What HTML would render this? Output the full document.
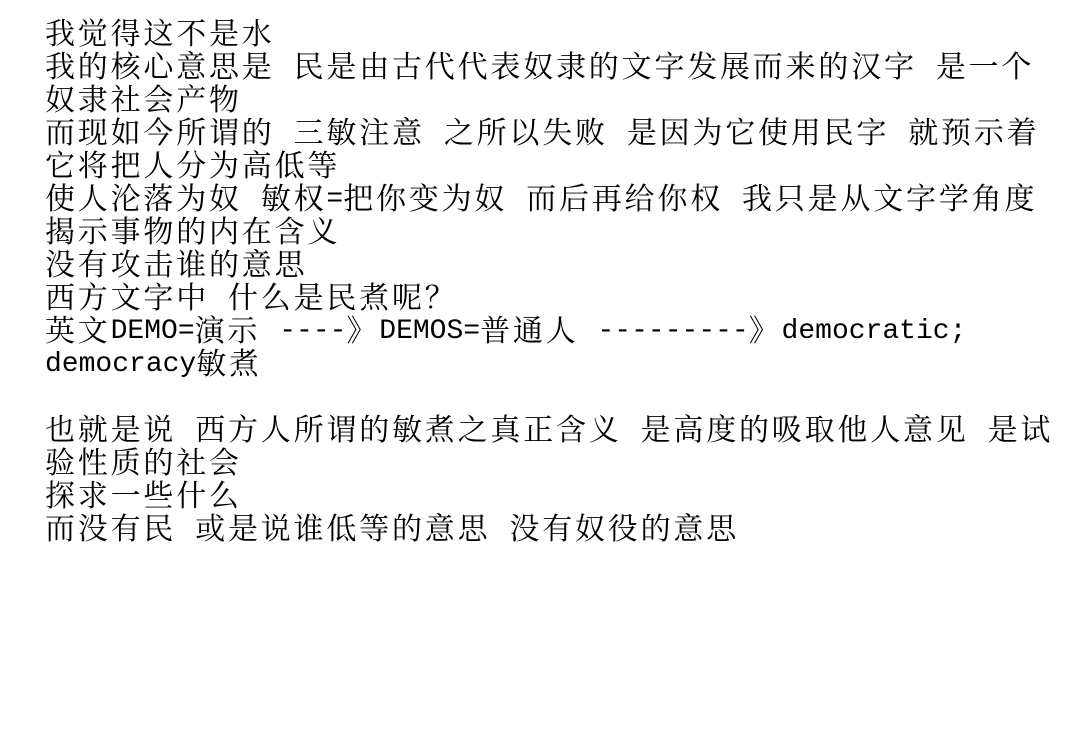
<!DOCTYPE html>
<html><head><meta charset="utf-8"><style>
body{margin:0;width:1082px;height:740px;background:#fff;overflow:hidden}
#t{position:absolute;left:45px;top:15px;font-family:"Noto Serif CJK SC","WenQuanYi Zen Hei",serif;font-size:30px;letter-spacing:2.8px;color:#000;white-space:nowrap}
#t div{height:33px;line-height:33px;overflow:visible}
.m{font-family:"Liberation Mono",monospace;font-size:28px;letter-spacing:0;vertical-align:top;line-height:33px;white-space:pre;position:relative;top:3px}
.s{display:inline-block;width:19px}
</style></head><body><div id="t">
<div>我觉得这不是水</div>
<div>我的核心意思是<span class="s"></span>民是由古代代表奴隶的文字发展而来的汉字<span class="s"></span>是一个</div>
<div>奴隶社会产物</div>
<div>而现如今所谓的<span class="s"></span>三敏注意<span class="s"></span>之所以失败<span class="s"></span>是因为它使用民字<span class="s"></span>就预示着</div>
<div>它将把人分为高低等</div>
<div>使人沦落为奴<span class="s"></span>敏权<span class="m">=</span>把你变为奴<span class="s"></span>而后再给你权<span class="s"></span>我只是从文字学角度</div>
<div>揭示事物的内在含义</div>
<div>没有攻击谁的意思</div>
<div>西方文字中<span class="s"></span>什么是民煮呢？</div>
<div>英文<span class="m">DEMO=</span>演示<span class="s"></span><span class="m">----</span>》<span class="m">DEMOS=</span>普通人<span class="s"></span><span class="m">---------</span>》<span class="m">democratic;</span></div>
<div><span class="m">democracy</span>敏煮</div>
<div></div>
<div>也就是说<span class="s"></span>西方人所谓的敏煮之真正含义<span class="s"></span>是高度的吸取他人意见<span class="s"></span>是试</div>
<div>验性质的社会</div>
<div>探求一些什么</div>
<div>而没有民<span class="s"></span>或是说谁低等的意思<span class="s"></span>没有奴役的意思</div>
</div></body></html>
